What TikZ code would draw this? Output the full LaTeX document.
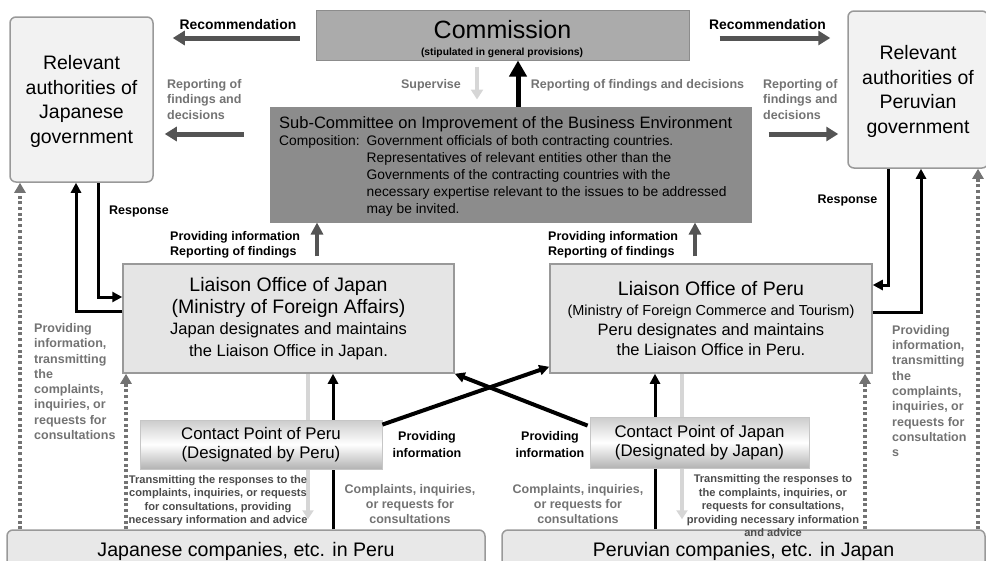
\documentclass[tikz,border=0pt]{standalone}
\usepackage{fontspec}
\setmainfont{Liberation Sans}
\usetikzlibrary{arrows.meta}
\definecolor{comfill}{gray}{0.67}
\definecolor{comedge}{gray}{0.55}
\definecolor{subfill}{gray}{0.55}
\definecolor{authfill}{gray}{0.95}
\definecolor{liafill}{gray}{0.9}
\definecolor{compfill}{gray}{0.91}
\definecolor{boxedge}{gray}{0.6}
\definecolor{labelgray}{gray}{0.45}
\definecolor{notegray}{gray}{0.3}
\definecolor{arrowgray}{gray}{0.33}
\definecolor{palegray}{gray}{0.84}
\definecolor{dotgray}{gray}{0.45}
\newcommand{\bigline}{\fontsize{19.5}{21.7}\selectfont}
\newcommand{\midline}{\fontsize{16.5}{21.7}\selectfont}
\newcommand{\pbigline}{\fontsize{19.5}{19.7}\selectfont}
\newcommand{\pmidline}{\fontsize{16.5}{19.7}\selectfont}
\newcommand{\psmallline}{\fontsize{14.5}{19.7}\selectfont}
\begin{document}
\begin{tikzpicture}[x=1pt,y=-1pt,
  authbox/.style={draw=boxedge, line width=1.5pt, rounded corners=6pt, fill=authfill, align=center, inner sep=0pt, font=\fontsize{19.5}{24.5}\selectfont},
  liabox/.style={draw=boxedge, line width=1.5pt, fill=liafill, align=center, inner sep=0pt},
  cpbox/.style={draw=gray!45, line width=0.8pt, top color=gray!40, bottom color=gray!60, middle color=white, align=center, inner sep=0pt, font=\fontsize{16.8}{19}\selectfont},
  compbox/.style={draw=boxedge, line width=1.5pt, rounded corners=6pt, fill=compfill, inner sep=0pt, font=\fontsize{19.6}{22}\selectfont},
  lbl/.style={inner sep=0pt, font=\bfseries\fontsize{12.5}{15.3}\selectfont},
  greylbl/.style={lbl, text=labelgray},
  notelbl/.style={inner sep=0pt, align=center, text=notegray, font=\bfseries\fontsize{11.1}{13.5}\selectfont},
  darkarrow/.style={draw=arrowgray, line width=5pt, -{Triangle[width=14pt,length=12pt]}},
  blackarrow/.style={draw=black, line width=3pt, -{Triangle[width=10pt,length=10pt]}},
  palearrow/.style={draw=palegray, line width=3.5pt, -{Triangle[width=11pt,length=9pt]}},
  dotarrow/.style={draw=dotgray, line width=3.5pt, dash pattern=on 3pt off 2.7pt, -{Triangle[width=11pt,length=10pt]}}
]
\useasboundingbox (0,0) rectangle (986,560);
\clip (0,0) rectangle (986,560);

\node[draw=comedge, line width=1pt, fill=comfill, minimum width=373pt, minimum height=50pt] (com) at (502.5,35) {};
\node[anchor=base, inner sep=0pt, font=\fontsize{25}{30}\selectfont] (comtitle) at (502.5,38) {Commission};
\node[anchor=base, inner sep=0pt, font=\bfseries\fontsize{10.3}{12}\selectfont] (comnote) at (502,55) {(stipulated in general provisions)};

\node[draw=comedge, line width=1pt, fill=subfill, minimum width=481pt, minimum height=115pt] (sub) at (510.5,164.5) {};
\node[anchor=north west, inner sep=0pt, font=\fontsize{13.8}{17}\selectfont] (subtxt) at (279,116) {\begin{tabular}{@{}l@{\hspace{7pt}}l@{}}
\multicolumn{2}{@{}l@{}}{\fontsize{16.5}{17}\selectfont Sub-Committee on Improvement of the Business Environment}\\
Composition: & Government officials of both contracting countries.\\
 & Representatives of relevant entities other than the\\
 & Governments of the contracting countries with the\\
 & necessary expertise relevant to the issues to be addressed\\
 & may be invited.
\end{tabular}};

\node[authbox, minimum width=143pt, minimum height=165pt, text depth=0pt] (authJ) at (81.5,99.5) {Relevant\\authorities of\\Japanese\\government};
\node[authbox, minimum width=140pt, minimum height=157pt, text depth=0pt] (authP) at (918,89.5) {Relevant\\authorities of\\Peruvian\\government};

\node[liabox, minimum width=331pt, minimum height=109pt, font=\bigline] (liaJ) at (288.5,318.5) {\bigline Liaison Office of Japan\\\bigline (Ministry of Foreign Affairs)\\\midline Japan designates and maintains\\\midline the Liaison Office in Japan.};
\node[liabox, minimum width=322pt, minimum height=109pt, font=\pbigline] (liaP) at (711,318.5) {\pbigline Liaison Office of Peru\\\psmallline (Ministry of Foreign Commerce and Tourism)\\\pmidline Peru designates and maintains\\\pmidline the Liaison Office in Peru.};

\node[compbox, minimum width=478pt, minimum height=42pt] (compJ) at (246,551) {Japanese companies, etc. in Peru};
\node[compbox, minimum width=483pt, minimum height=42pt] (compP) at (743.5,551) {Peruvian companies, etc. in Japan};

\draw[darkarrow, shorten <=16pt, shorten >=19pt] (com.west |- 0,38) -- (authJ.east |- 0,38);
\draw[darkarrow, shorten <=30pt, shorten >=17pt] (com.east |- 0,38) -- (authP.west |- 0,38);
\draw[darkarrow, shorten <=26pt, shorten >=11pt] (sub.west |- 0,134) -- (authJ.east |- 0,134);
\draw[darkarrow, shorten <=17pt, shorten >=9pt] (sub.east |- 0,134) -- (authP.west |- 0,134);
\draw[draw=palegray, line width=4pt, -{Triangle[width=12pt,length=10pt]}, shorten <=6pt, shorten >=7pt] (com.south -| 477,0) -- (sub.north -| 477,0);
\draw[line width=5pt, -{Triangle[width=17pt,length=16pt]}] (sub.north -| 518,0) -- (com.south -| 518,0);
\draw[darkarrow, line width=4pt, -{Triangle[width=12pt,length=12pt]}, shorten <=7pt] (liaJ.north -| 317,0) -- (sub.south -| 317,0);
\draw[darkarrow, line width=4pt, -{Triangle[width=12pt,length=12pt]}, shorten <=7pt] (liaP.north -| 695,0) -- (sub.south -| 695,0);

\draw[blackarrow] (authJ.south -| 98,0) |- (liaJ.west |- 0,297);
\draw[blackarrow] (liaJ.west |- 0,311) -| (authJ.south -| 76,0);
\draw[blackarrow] (authP.south -| 888,0) |- (liaP.east |- 0,285);
\draw[blackarrow] (liaP.east |- 0,312) -| (authP.south -| 921,0);

\draw[dotarrow] (compJ.north -| 20,0) -- (authJ.south -| 20,0);
\draw[dotarrow] (compJ.north -| 126,0) -- (liaJ.south -| 126,0);
\draw[dotarrow] (compP.north -| 865,0) -- (liaP.south -| 865,0);
\draw[dotarrow] (compP.north -| 978,0) -- (authP.south -| 978,0);

\draw[palearrow, shorten >=10pt] (liaJ.south -| 308,0) -- (compJ.north -| 308,0);
\draw[palearrow, shorten >=10pt] (liaP.south -| 682,0) -- (compP.north -| 682,0);
\draw[blackarrow] (compJ.north -| 333,0) -- (liaJ.south -| 333,0);
\draw[blackarrow] (compP.north -| 655,0) -- (liaP.south -| 655,0);

\node[cpbox, minimum width=242pt, minimum height=49pt] (cpP) at (261,444.5) {Contact Point of Peru\\(Designated by Peru)};
\node[cpbox, minimum width=219pt, minimum height=51pt] (cpJ) at (699.5,442.5) {Contact Point of Japan\\(Designated by Japan)};

\draw[blackarrow, line width=4pt] ([yshift=-5pt]cpP.north east) -- ([yshift=7pt]liaP.south west);
\draw[blackarrow, line width=4pt] ([shift={(-2,9)}]cpJ.north west) -- (liaJ.south east);

\node[lbl, font=\bfseries\fontsize{13.9}{16}\selectfont] (recJ) at (238,25) {Recommendation};
\node[lbl, font=\bfseries\fontsize{13.9}{16}\selectfont] (recP) at (767.5,25) {Recommendation};
\node[greylbl] (sup) at (431,85) {Supervise};
\node[greylbl] (repC) at (637.5,85) {Reporting of findings and decisions};
\node[greylbl, align=left, anchor=west] (repJ) at (167,99.5) {Reporting of\\findings and\\decisions};
\node[greylbl, align=left, anchor=west] (repP) at (763,99.5) {Reporting of\\findings and\\decisions};
\node[lbl] (resJ) at (139,211) {Response};
\node[lbl] (resP) at (847.5,200.5) {Response};
\node[lbl, align=left, anchor=west] (provJ) at (170,244.5) {Providing information\\Reporting of findings};
\node[lbl, align=left, anchor=west] (provP) at (548,244.5) {Providing information\\Reporting of findings};
\node[greylbl, align=left, anchor=west] (txJ) at (34,381.5) {Providing\\information,\\transmitting\\the\\complaints,\\inquiries, or\\requests for\\consultations};
\node[greylbl, align=left, anchor=west] (txP) at (892,391) {Providing\\information,\\transmitting\\the\\complaints,\\inquiries, or\\requests for\\consultation\\s};
\node[lbl, align=center, font=\bfseries\fontsize{12.5}{17}\selectfont] (infoJ) at (427,444.5) {Providing\\information};
\node[lbl, align=center, font=\bfseries\fontsize{12.5}{17}\selectfont] (infoP) at (550,444.5) {Providing\\information};
\node[greylbl, align=center, font=\bfseries\fontsize{12.5}{15}\selectfont] (cmpJ) at (410,504) {Complaints, inquiries,\\or requests for\\consultations};
\node[greylbl, align=center, font=\bfseries\fontsize{12.5}{15}\selectfont] (cmpP) at (578,504) {Complaints, inquiries,\\or requests for\\consultations};
\node[notelbl] (ansJ) at (218,500.5) {Transmitting the responses to the\\complaints, inquiries, or requests\\for consultations, providing\\necessary information and advice};
\node[notelbl] (ansP) at (773,506) {Transmitting the responses to\\the complaints, inquiries, or\\requests for consultations,\\providing necessary information\\and advice};
\end{tikzpicture}
\end{document}
